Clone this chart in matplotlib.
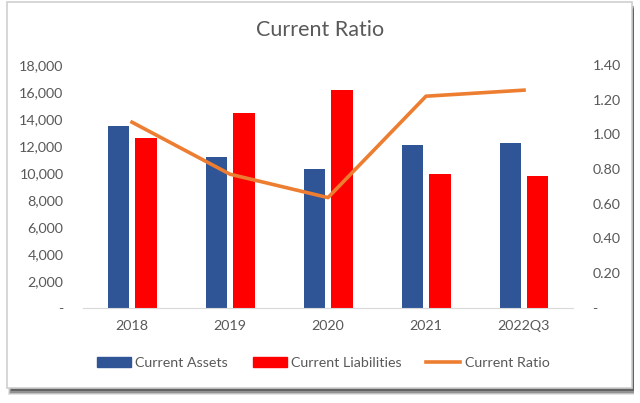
import numpy as np
import matplotlib.pyplot as plt
from matplotlib.patches import Rectangle, Patch
from matplotlib.lines import Line2D

categories = ['2018', '2019', '2020', '2021', '2022Q3']
current_assets = [13500, 11200, 10270, 12100, 12240]
current_liabilities = [12600, 14470, 16130, 9920, 9750]
current_ratio = [1.07, 0.77, 0.635, 1.22, 1.255]

plt.rcParams['font.family'] = ['Lato', 'DejaVu Sans']
txt = '#595959'
blue = '#2F5597'
red = '#FF0000'
orange = '#ED7D31'

fig = plt.figure(figsize=(6.4, 4.03), dpi=100)
fig.patch.set_facecolor('white')

# card frame with drop shadow underneath
for i, a in enumerate([0.12, 0.2, 0.3, 0.45]):
    fig.patches.append(Rectangle(((8 + i) / 640, (403 - 395 + i * 1.2) / 403),
                                 (626 - i) / 640, (385) / 403,
                                 transform=fig.transFigure, facecolor='#2a2a2a',
                                 edgecolor='none', alpha=a, zorder=0))
fig.patches.append(Rectangle((7 / 640, (403 - 388) / 403), 625 / 640, 386 / 403,
                             transform=fig.transFigure, facecolor='white',
                             edgecolor='#cfcfcf', linewidth=1.2, zorder=1))

ax = fig.add_axes([83 / 640, (403 - 307.7) / 403, 490 / 640, 242.7 / 403])
ax.set_zorder(2)
ax.patch.set_visible(False)
x = np.arange(len(categories))
ax.bar(x - 0.14, current_assets, 0.22, color=blue)
ax.bar(x + 0.14, current_liabilities, 0.22, color=red)
ax.set_xlim(-0.5, 4.5)
ax.set_ylim(0, 18000)
ax.set_yticks(np.arange(0, 18001, 2000))
ax.set_yticklabels(['-'] + [f'{v:,}' for v in range(2000, 18001, 2000)])
ax.set_xticks(x)
ax.set_xticklabels(categories)
for s in ['top', 'right', 'left']:
    ax.spines[s].set_visible(False)
ax.spines['bottom'].set_color('#d9d9d9')
ax.tick_params(axis='both', length=0, colors=txt, labelsize=10.3)
ax.tick_params(axis='x', pad=9)
ax.tick_params(axis='y', pad=14)

ax2 = ax.twinx()
ax2.plot(x, current_ratio, color=orange, linewidth=2.6)
ax2.set_ylim(0, 1.4)
ax2.set_yticks(np.arange(0, 1.41, 0.2))
ax2.set_yticklabels(['-'] + [f'{v:.2f}' for v in np.arange(0.2, 1.41, 0.2)])
for s in ax2.spines.values():
    s.set_visible(False)
ax2.tick_params(axis='y', length=0, colors=txt, labelsize=10.3, pad=14)

fig.text(0.5, 1 - 30 / 403, 'Current Ratio', ha='center', va='center',
         fontsize=15.5, color=txt)

handles = [Patch(color=blue), Patch(color=red),
           Line2D([0], [0], color=orange, linewidth=2.6)]
labels = ['Current Assets', 'Current Liabilities', 'Current Ratio']
fig.legend(handles, labels, loc='center', bbox_to_anchor=(0.505, 1 - 363 / 403),
           ncol=3, frameon=False, fontsize=10.3, labelcolor=txt,
           handlelength=2.4, handleheight=0.7, handletextpad=0.3, columnspacing=1.7)

fig.savefig('out.png', dpi=100)
